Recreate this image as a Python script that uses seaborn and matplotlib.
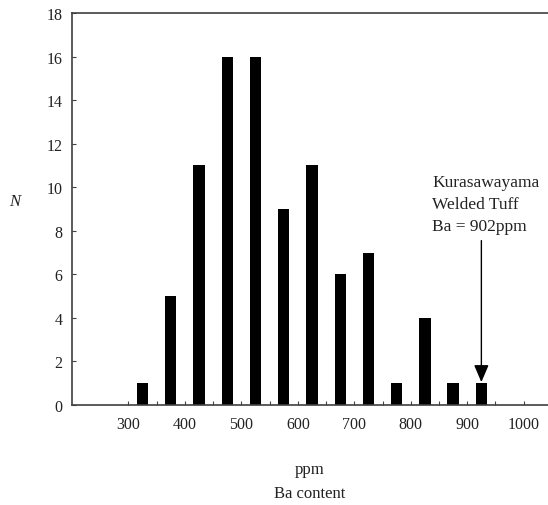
import matplotlib
matplotlib.use("Agg")
import matplotlib.pyplot as plt
import seaborn as sns
import pandas as pd

bin_centers = [325, 375, 425, 475, 525, 575, 625, 675, 725, 775, 825, 875, 925]
counts = [1, 5, 11, 16, 16, 9, 11, 6, 7, 1, 4, 1, 1]
major_ticks = [300, 400, 500, 600, 700, 800, 900, 1000]
y_ticks = [0, 2, 4, 6, 8, 10, 12, 14, 16, 18]

sns.set_theme(style="white")
plt.rcParams['font.family'] = ['Liberation Serif', 'DejaVu Serif']

df = pd.DataFrame({"ppm": bin_centers, "N": counts})

fig = plt.figure(figsize=(5.48, 5.06), dpi=100)
ax = fig.add_axes([72/548, 1 - 406/506, 1 - 72/548, (406 - 14)/506])

sns.barplot(data=df, x="ppm", y="N", native_scale=True, width=0.4,
            color="black", saturation=1, ax=ax, edgecolor="black", linewidth=0)

ax.set_xlim(200, 1043)
ax.set_ylim(0, 18)
ax.set_xticks(major_ticks)
ax.set_xticklabels([str(t) for t in major_ticks])
ax.set_xticks([t for t in range(350, 1000, 100)], minor=True)
ax.set_yticks(y_ticks)
ax.tick_params(axis="both", which="both", direction="in", length=3, width=0.8,
               color="#404040", labelsize=11.5, labelcolor="#222222")
ax.tick_params(axis="x", which="both", bottom=True, pad=8)
ax.tick_params(axis="y", which="both", left=True, pad=7)

for side in ["left", "bottom", "top"]:
    ax.spines[side].set_color("#404040")
    ax.spines[side].set_linewidth(1.2)
ax.spines["right"].set_visible(False)

ax.set_xlabel("ppm", fontsize=12, labelpad=21, color="#222222")
ax.set_ylabel("N", fontsize=12, rotation=0, style="italic", color="#222222")
ax.yaxis.set_label_coords(-0.12, 0.50)
fig.text((72 + 548) / 2 / 548, 1 - 494/506, "Ba content", ha="center", va="center",
         fontsize=12, color="#222222")

ax.text(838, 10.6, "Kurasawayama\nWelded Tuff\nBa = 902ppm", ha="left", va="top",
        fontsize=12.5, linespacing=1.48, color="#222222")
ax.annotate("", xy=(925, 1.05), xytext=(925, 7.55),
            arrowprops=dict(arrowstyle="-|>,head_length=0.7,head_width=0.3",
                            mutation_scale=15, color="black", lw=1.0,
                            shrinkA=0, shrinkB=0))

fig.savefig("out.png", dpi=100)
